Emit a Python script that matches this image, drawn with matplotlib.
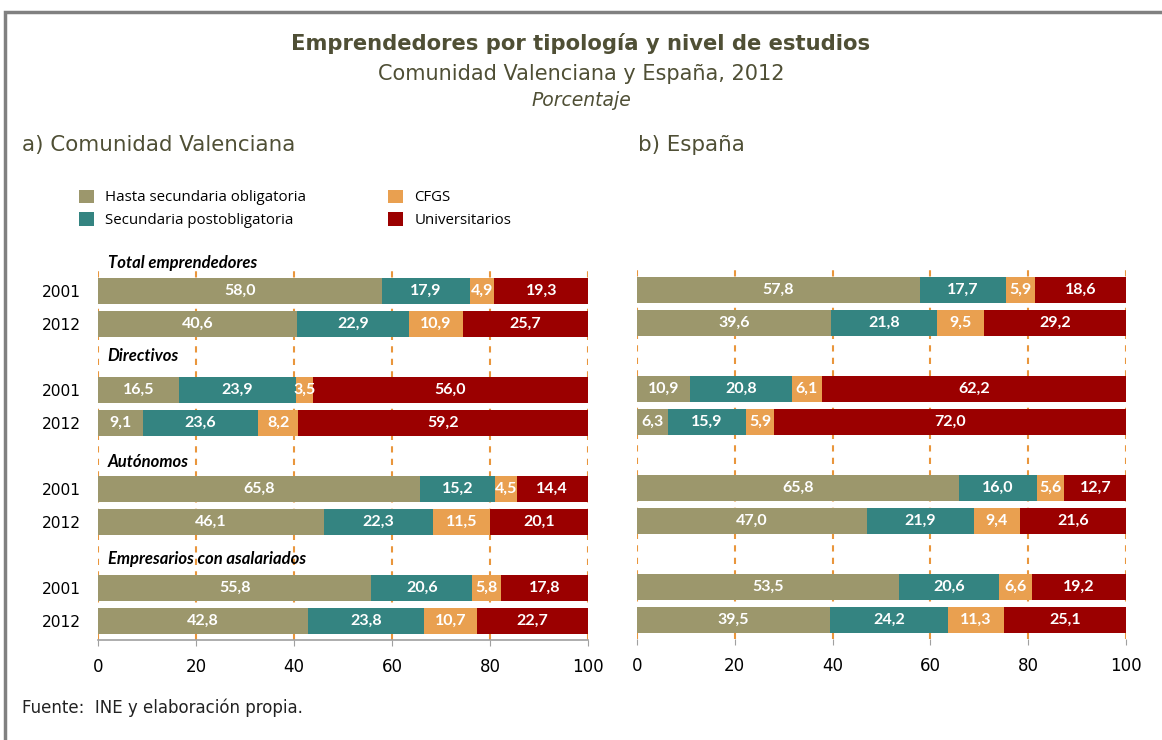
import numpy as np
import matplotlib.pyplot as plt
from matplotlib.patches import Patch, Rectangle

# series names and colours
series = ['Hasta secundaria obligatoria', 'Secundaria postobligatoria', 'CFGS', 'Universitarios']
colors = ['#9C976C', '#348481', '#E9A050', '#9B0000']

groups = ['Total emprendedores', 'Directivos', 'Autónomos', 'Empresarios con asalariados']
years = ['2001', '2012']

# Comunidad Valenciana, rows: (group, year)
cv_hasta = [58.0, 40.6, 16.5, 9.1, 65.8, 46.1, 55.8, 42.8]
cv_secpost = [17.9, 22.9, 23.9, 23.6, 15.2, 22.3, 20.6, 23.8]
cv_cfgs = [4.9, 10.9, 3.5, 8.2, 4.5, 11.5, 5.8, 10.7]
cv_univ = [19.3, 25.7, 56.0, 59.2, 14.4, 20.1, 17.8, 22.7]

# España
es_hasta = [57.8, 39.6, 10.9, 6.3, 65.8, 47.0, 53.5, 39.5]
es_secpost = [17.7, 21.8, 20.8, 15.9, 16.0, 21.9, 20.6, 24.2]
es_cfgs = [5.9, 9.5, 6.1, 5.9, 5.6, 9.4, 6.6, 11.3]
es_univ = [18.6, 29.2, 62.2, 72.0, 12.7, 21.6, 19.2, 25.1]

# row positions: two bars per group, one empty row between groups
ypos = np.array([0, 1, 3, 4, 6, 7, 9, 10])
group_label_y = [-0.85, 1.97, 5.18, 8.12]

title_col = '#4F4F35'

fig = plt.figure(figsize=(11.62, 7.40), dpi=100)

# outer frame
fig.patches.append(Rectangle((5 / 1162, -0.1), 1.2, (740 - 12) / 740 + 0.1,
                             transform=fig.transFigure, fill=False,
                             edgecolor='#808080', linewidth=2.5))

fig.text(0.5, 1 - 44 / 740, 'Emprendedores por tipología y nivel de estudios',
         ha='center', va='center', fontsize=15.2, fontweight='bold', color=title_col,
         family='DejaVu Sans')
fig.text(0.5, 1 - 74 / 740, 'Comunidad Valenciana y España, 2012',
         ha='center', va='center', fontsize=15, color=title_col, family='DejaVu Sans')
fig.text(0.5, 1 - 101 / 740, 'Porcentaje', ha='center', va='center', fontsize=13.5,
         style='italic', color=title_col, family='DejaVu Sans')
fig.text(22 / 1162, 1 - 145 / 740, 'a) Comunidad Valenciana', ha='left', va='center',
         fontsize=15.4, color=title_col, family='DejaVu Sans')
fig.text(638 / 1162, 1 - 145 / 740, 'b) España', ha='left', va='center',
         fontsize=15.4, color=title_col, family='DejaVu Sans')
fig.text(22 / 1162, 1 - 708 / 740, 'Fuente:  INE y elaboración propia.', ha='left',
         va='center', fontsize=12, color='#222222', family='DejaVu Sans')

handles = [Patch(facecolor=c, edgecolor='none', label=s) for s, c in zip(series, colors)]
fig.legend(handles=handles, loc='upper left', bbox_to_anchor=(65 / 1162, 1 - 176 / 740),
           ncol=2, frameon=False, handlelength=1.0, handleheight=1.0,
           handletextpad=0.75, columnspacing=5.5, labelspacing=0.45,
           prop={'family': 'Open Sans', 'size': 10.8})


def draw_panel(ax, data, show_labels):
    left = np.zeros(len(ypos))
    for vals, c in zip(data, colors):
        vals = np.array(vals)
        ax.barh(ypos, vals, left=left, height=0.8, color=c, edgecolor='none', zorder=2)
        for y, l, v in zip(ypos, left, vals):
            ax.text(l + v / 2, y, f'{v:.1f}'.replace('.', ','), ha='center', va='center',
                    color='white', fontsize=11.5, fontweight='bold', family='Lato', zorder=3)
        left += vals

    ax.set_xlim(0, 100)
    ax.set_ylim(10.58, -0.7)
    for x in range(0, 101, 20):
        ax.axvline(x, color='#E9963C', linestyle=(0, (3, 3)), linewidth=1.5, zorder=1)
    ax.set_xticks(range(0, 101, 20))
    ax.tick_params(axis='x', length=4, color='#A0A0A0', labelsize=12, pad=9)
    for t in ax.get_xticklabels():
        t.set_family('DejaVu Sans')
    for s in ['top', 'right', 'left']:
        ax.spines[s].set_visible(False)
    if show_labels:
        ax.spines['bottom'].set_color('#A0A0A0')
        ax.spines['bottom'].set_linewidth(1.2)
        ax.set_yticks(ypos)
        ax.set_yticklabels(years * 4, fontsize=11.2, family='DejaVu Sans')
        ax.tick_params(axis='y', length=0, pad=12)
        for g, gy in zip(groups, group_label_y):
            ax.text(2, gy, g, ha='left', va='center', fontsize=12, fontweight='bold',
                    style='italic', family='Lato', color='black', clip_on=False, zorder=4)
    else:
        ax.spines['bottom'].set_visible(False)
        ax.set_yticks([])


ax1 = fig.add_axes([98 / 1162, 100 / 740, 490 / 1162, 372 / 740])
draw_panel(ax1, [cv_hasta, cv_secpost, cv_cfgs, cv_univ], True)

ax2 = fig.add_axes([637 / 1162, 101 / 740, 489 / 1162, 372 / 740])
draw_panel(ax2, [es_hasta, es_secpost, es_cfgs, es_univ], False)

fig.savefig('out.png', dpi=100)
